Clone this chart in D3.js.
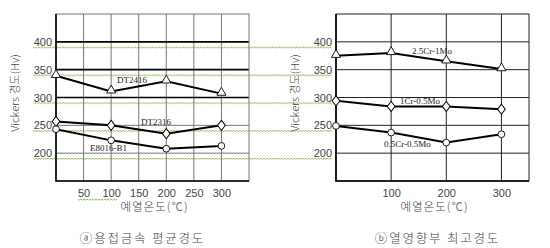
<!DOCTYPE html>
<html>
<head>
<meta charset="utf-8">
<script src="https://cdn.jsdelivr.net/npm/d3@7"></script>
<style>
  body { margin: 0; background: #fff; }
  svg { display: block; }
  .tick text { font-family: "Liberation Sans", Arial, sans-serif; font-size: 11px; fill: #444; }
  .lbl { font-family: "Liberation Serif", "Times New Roman", serif; font-size: 9px; fill: #222; }
  .kr { font-family: "Noto Sans CJK KR", sans-serif; fill: #444; font-weight: 300; }
</style>
</head>
<body>
<div id="chart"></div>
<script>
// preheat temperature (C)
var temps = [0, 100, 200, 300];
var yTicks = [200, 250, 300, 350, 400];
var xTicksA = [50, 100, 150, 200, 250, 300];
var xTicksB = [100, 200, 300];

// (a) weld metal average hardness
var dt2416 = [339, 311, 329, 307];
var dt2316 = [257, 250, 235, 250];
var e8016 = [243, 223, 208, 213];

// (b) HAZ max hardness
var cr25 = [375, 380, 365, 351];
var cr1 = [294, 284, 284, 279];
var cr05 = [249, 237, 219, 234];

var seriesA = [
  {name: "DT2416", vals: dt2416, mark: "tri", lx: 117, ly: 80},
  {name: "DT2316", vals: dt2316, mark: "dia", lx: 141, ly: 122},
  {name: "E8016-B1", vals: e8016, mark: "cir", lx: 90, ly: 148}
];
var seriesB = [
  {name: "2.5Cr-1Mo", vals: cr25, mark: "tri", lx: 412, ly: 51},
  {name: "1Cr-0.5Mo", vals: cr1, mark: "dia", lx: 400, ly: 101},
  {name: "0.5Cr-0.5Mo", vals: cr05, mark: "cir", lx: 384, ly: 144}
];

var W = 550, H = 248;
var svg = d3.select("#chart").append("svg")
    .attr("width", W)
    .attr("height", H);

var y = d3.scaleLinear().domain([150, 450]).range([181, 14]);

// spell-check style green squiggles under the y tick labels
function squiggle(x0, x1, yy) {
  var s = "M" + x0 + "," + yy;
  for (var i = x0 + 1.5, k = 0; i <= x1; i += 1.5, k++) {
    s += "L" + i + "," + (yy + (k % 2 ? 0 : 1.2));
  }
  return s;
}
svg.append("g").selectAll("path")
    .data(yTicks)
  .enter().append("path")
    .attr("d", function(d) { return squiggle(33, 332, y(d) + 5); })
    .attr("fill", "none")
    .attr("stroke", "#86b84e")
    .attr("stroke-width", 0.9);

function panel(x0, x1, gridX, ticksX, series, boldY, gridCol, title, axisLabelX, titleShift) {
  var x = d3.scaleLinear().domain([0, 350]).range([x0, x1]);
  var g = svg.append("g");

  // vertical grid
  g.selectAll(".vg")
      .data(gridX)
    .enter().append("line")
      .attr("x1", function(d) { return x(d); })
      .attr("x2", function(d) { return x(d); })
      .attr("y1", y(450))
      .attr("y2", y(150))
      .attr("stroke", gridCol)
      .attr("stroke-width", 1);

  // horizontal grid
  g.selectAll(".hg")
      .data(yTicks)
    .enter().append("line")
      .attr("x1", x(0))
      .attr("x2", x(350))
      .attr("y1", function(d) { return y(d); })
      .attr("y2", function(d) { return y(d); })
      .attr("stroke", function(d) { return boldY.indexOf(d) >= 0 ? "#000" : gridCol; })
      .attr("stroke-width", function(d) { return boldY.indexOf(d) >= 0 ? 1.6 : 1; });

  // frame
  g.append("rect")
      .attr("x", x(0)).attr("y", y(450))
      .attr("width", x(350) - x(0)).attr("height", y(150) - y(450))
      .attr("fill", "none").attr("stroke", gridCol).attr("stroke-width", 1);
  g.append("path")
      .attr("d", "M" + x(0) + "," + y(450) + "V" + y(150) + "H" + x(350))
      .attr("fill", "none").attr("stroke", "#000").attr("stroke-width", 1.6);

  // axes (labels only)
  var ya = g.append("g")
      .attr("transform", "translate(" + (x(0) - 3) + ",0)")
      .call(d3.axisLeft(y).tickValues(yTicks).tickSize(0).tickPadding(1));
  ya.select(".domain").remove();

  var xa = g.append("g")
      .attr("transform", "translate(0," + (y(150) + 6) + ")")
      .call(d3.axisBottom(x).tickValues(ticksX).tickSize(0).tickPadding(2));
  xa.select(".domain").remove();

  // lines
  var line = d3.line()
      .x(function(d, i) { return x(temps[i]); })
      .y(function(d) { return y(d); });

  series.forEach(function(s) {
    g.append("path")
        .attr("d", line(s.vals))
        .attr("fill", "none")
        .attr("stroke", "#000")
        .attr("stroke-width", 2);

    var sym = s.mark == "tri" ? d3.symbolTriangle : (s.mark == "dia" ? d3.symbolDiamond : d3.symbolCircle);
    g.selectAll(".m" + s.mark)
        .data(s.vals)
      .enter().append("path")
        .attr("d", d3.symbol().type(sym).size(36))
        .attr("transform", function(d, i) {
          return "translate(" + x(temps[i]) + "," + (y(d) + (s.mark == "tri" ? -1 : 0)) + ")" +
            (s.mark == "dia" ? " scale(1.2,0.9)" : "");
        })
        .attr("fill", "#fff")
        .attr("stroke", "#000")
        .attr("stroke-width", 0.9);

    g.append("text")
        .attr("class", "lbl")
        .attr("x", s.lx)
        .attr("y", s.ly)
        .attr("dy", "0.35em")
        .text(s.name);
  });

  // axis titles
  g.append("text")
      .attr("class", "kr")
      .attr("transform", "translate(" + axisLabelX + "," + 93 + ") rotate(-90)")
      .attr("text-anchor", "middle")
      .attr("dy", "0.35em")
      .style("font-size", "11px")
      .text("Vickers 경도(Hv)");

  g.append("text")
      .attr("class", "kr")
      .attr("x", (x(0) + x(350)) / 2 + 2)
      .attr("y", 207)
      .attr("text-anchor", "middle")
      .attr("dy", "0.35em")
      .style("font-size", "11.5px")
      .style("letter-spacing", "1px")
      .text("예열온도(℃)");

  g.append("text")
      .attr("class", "kr")
      .attr("x", (x(0) + x(350)) / 2 + titleShift)
      .attr("y", 239)
      .attr("text-anchor", "middle")
      .attr("dy", "0.35em")
      .style("font-size", "12.5px")
      .style("letter-spacing", "1.8px")
      .text(title);
}

panel(56, 249, [50, 100, 150, 200, 250, 300], xTicksA, seriesA, [300, 350, 400], "#777", "ⓐ용접금속 평균경도", 15, -10);
panel(336, 529, [100, 200, 300], xTicksB, seriesB, [], "#222", "ⓑ열영향부 최고경도", 295, 5);

// squiggle under "50 100"
svg.append("path")
    .attr("d", squiggle(78, 118, 199))
    .attr("fill", "none")
    .attr("stroke", "#86b84e")
    .attr("stroke-width", 0.9);
</script>
</body>
</html>
